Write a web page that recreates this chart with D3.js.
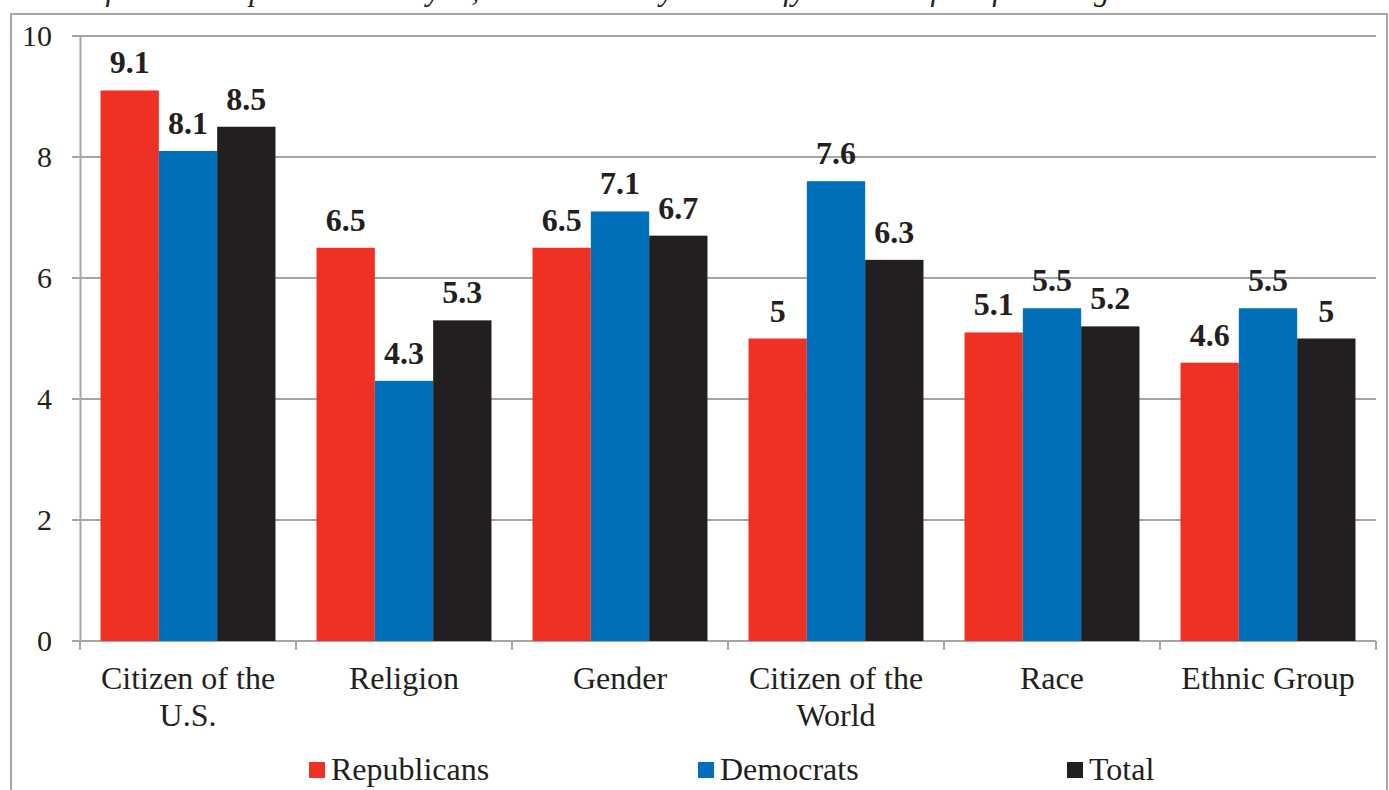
<!DOCTYPE html>
<html>
<head>
<meta charset="utf-8">
<script src="https://cdn.jsdelivr.net/npm/d3@7/dist/d3.min.js"></script>
<style>
  html, body { margin: 0; padding: 0; background: #fff; }
  svg { display: block; }
  text { font-family: "Liberation Serif", "Times New Roman", serif; fill: #231f20; }
</style>
</head>
<body>
<svg id="chart" width="1389" height="790"></svg>
<script>
// Survey: identification scores by party
const categories = [["Citizen of the", "U.S."], ["Religion"], ["Gender"], ["Citizen of the", "World"], ["Race"], ["Ethnic Group"]];
const seriesNames = ["Republicans", "Democrats", "Total"];
const republicans = [9.1, 6.5, 6.5, 5, 5.1, 4.6];
const democrats   = [8.1, 4.3, 7.1, 7.6, 5.5, 5.5];
const total       = [8.5, 5.3, 6.7, 6.3, 5.2, 5];
const yTicks = [0, 2, 4, 6, 8, 10];
const colors = ["#ee3124", "#0070bb", "#231f20"];
const question = "In terms of what is important about you, how much do you identify as each of the following?";

const series = [republicans, democrats, total];
const svg = d3.select("#chart");
const gridColor = "#a6a6a6";

// frame around the chart
svg.append("rect")
  .attr("x", 11).attr("y", 14).attr("width", 1376).attr("height", 800)
  .attr("fill", "none").attr("stroke", gridColor).attr("stroke-width", 2);

// question line running off the top edge
svg.append("text")
  .attr("x", 1125).attr("y", 0)
  .attr("text-anchor", "end")
  .attr("font-style", "italic")
  .attr("font-size", 31)
  .text(question);

const plotLeft = 80, plotRight = 1376, plotTop = 36, plotBottom = 641;
const x0 = d3.scaleBand().domain(d3.range(categories.length)).range([plotLeft, plotRight]).paddingInner(0.19).paddingOuter(0.095);
const x1 = d3.scaleBand().domain(d3.range(series.length)).range([0, x0.bandwidth()]);
const y = d3.scaleLinear().domain([0, 10]).range([plotBottom, plotTop]);
const xEdges = d3.scaleLinear().domain([0, categories.length]).range([plotLeft, plotRight]);

// horizontal gridlines
svg.append("g").selectAll("line").data(yTicks).join("line")
  .attr("x1", plotLeft - 8).attr("x2", plotRight)
  .attr("y1", d => y(d)).attr("y2", d => y(d))
  .attr("stroke", gridColor).attr("stroke-width", 2);

// y-axis
const yAxis = d3.axisLeft(y).tickValues(yTicks).tickSize(0).tickPadding(28).tickFormat(d3.format("d"));
const gy = svg.append("g").attr("transform", `translate(${plotLeft},0)`).call(yAxis);
gy.select(".domain").attr("stroke", gridColor).attr("stroke-width", 2);
gy.selectAll("text").attr("font-size", 30).attr("font-family", "Liberation Serif").attr("fill", "#231f20");

// x-axis baseline and category separators
svg.append("line").attr("x1", plotLeft - 8).attr("x2", plotRight).attr("y1", plotBottom).attr("y2", plotBottom)
  .attr("stroke", gridColor).attr("stroke-width", 2);
svg.append("g").selectAll("line").data(d3.range(categories.length + 1)).join("line")
  .attr("x1", d => xEdges(d)).attr("x2", d => xEdges(d))
  .attr("y1", plotBottom).attr("y2", plotBottom + 9)
  .attr("stroke", gridColor).attr("stroke-width", 2);

// bars with value labels
const groups = svg.append("g").selectAll("g").data(categories).join("g")
  .attr("transform", (d, i) => `translate(${x0(i)},0)`);
groups.each(function(c, ci) {
  const g = d3.select(this);
  series.forEach((s, si) => {
    g.append("rect")
      .attr("x", x1(si)).attr("width", x1.bandwidth())
      .attr("y", y(s[ci])).attr("height", y(0) - y(s[ci]))
      .attr("fill", colors[si]);
    g.append("text")
      .attr("x", x1(si) + x1.bandwidth() / 2)
      .attr("y", y(s[ci]) - 17)
      .attr("text-anchor", "middle")
      .attr("font-weight", "bold")
      .attr("font-size", 32)
      .text(s[ci]);
  });
});

// category labels
svg.append("g").selectAll("text").data(categories).join("text")
  .attr("x", (d, i) => x0(i) + x0.bandwidth() / 2)
  .attr("y", 689)
  .attr("text-anchor", "middle")
  .attr("font-size", 32)
  .each(function(lines) {
    const cx = d3.select(this).attr("x");
    d3.select(this).selectAll("tspan").data(lines).join("tspan")
      .attr("x", cx)
      .attr("dy", (d, i) => i === 0 ? 0 : 37)
      .text(d => d);
  });

// legend
const legendX = [309, 698, 1067];
const legend = svg.append("g").selectAll("g").data(seriesNames).join("g")
  .attr("transform", (d, i) => `translate(${legendX[i]},762)`);
legend.append("rect").attr("width", 16).attr("height", 16).attr("fill", (d, i) => colors[i]);
legend.append("text").attr("x", 22).attr("y", 18).attr("font-size", 32).text(d => d);
</script>
</body>
</html>
